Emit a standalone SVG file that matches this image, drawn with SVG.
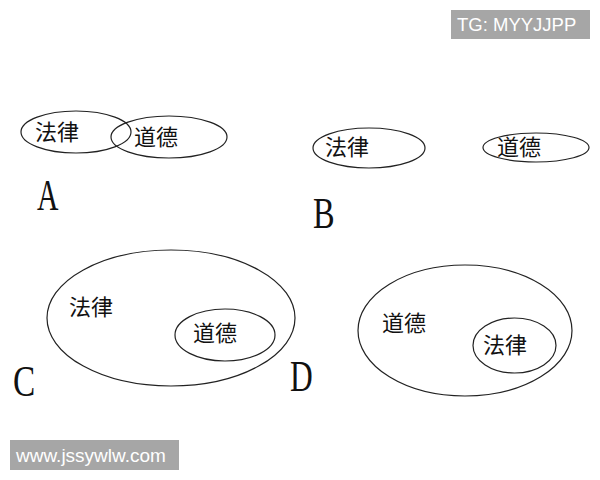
<svg xmlns="http://www.w3.org/2000/svg" width="600" height="480" viewBox="0 0 600 480">
<style>
.e{fill:none;stroke:#222;stroke-width:1.2}
.t{font-family:"Noto Sans CJK SC","Noto Sans",sans-serif;font-size:22px;fill:#111}
.l{font-family:"Liberation Serif","Times New Roman",serif;font-size:45px;fill:#111}
.wm{fill:#a6a6a6}
.wt{font-family:"Liberation Sans",Arial,sans-serif;fill:#fff}
</style>
<rect width="600" height="480" fill="#fff"/>
<g id="connectors"/>
<g id="A">
<ellipse id="A-law" class="e" cx="76" cy="132" rx="55" ry="21"/>
<ellipse id="A-moral" class="e" cx="169" cy="137" rx="58" ry="21"/>
<text class="t" x="35" y="140">法律</text>
<text class="t" x="134" y="145">道德</text>
<text class="l" transform="translate(37,210) scale(0.66,1)">A</text>
</g>
<g id="B">
<ellipse id="B-law" class="e" cx="369" cy="148" rx="56" ry="20"/>
<ellipse id="B-moral" class="e" cx="536" cy="147.5" rx="53" ry="14.5"/>
<text class="t" x="325" y="155">法律</text>
<text class="t" x="497" y="155">道德</text>
<text class="l" transform="translate(313,228) scale(0.72,1)">B</text>
</g>
<g id="C">
<ellipse id="C-law" class="e" cx="171" cy="318" rx="124" ry="68"/>
<ellipse id="C-moral" class="e" cx="225" cy="335" rx="50" ry="26"/>
<text class="t" x="69" y="315">法律</text>
<text class="t" x="193" y="341">道德</text>
<text class="l" transform="translate(13,396) scale(0.74,1)">C</text>
</g>
<g id="D">
<ellipse id="D-moral" class="e" cx="465" cy="330.5" rx="107" ry="65.5"/>
<ellipse id="D-law" class="e" cx="514.5" cy="345.5" rx="41.5" ry="27.5"/>
<text class="t" x="382" y="331">道德</text>
<text class="t" x="483" y="353">法律</text>
<text class="l" transform="translate(290,391) scale(0.7,1)">D</text>
</g>
<g id="wm1">
<rect class="wm" x="451" y="10" width="139" height="29"/>
<text class="wt" x="457" y="31" font-size="18.5">TG: MYYJJPP</text>
</g>
<g id="wm2">
<rect class="wm" x="10" y="440" width="169" height="30"/>
<text class="wt" x="16" y="462" font-size="19">www.jssywlw.com</text>
</g>
</svg>
